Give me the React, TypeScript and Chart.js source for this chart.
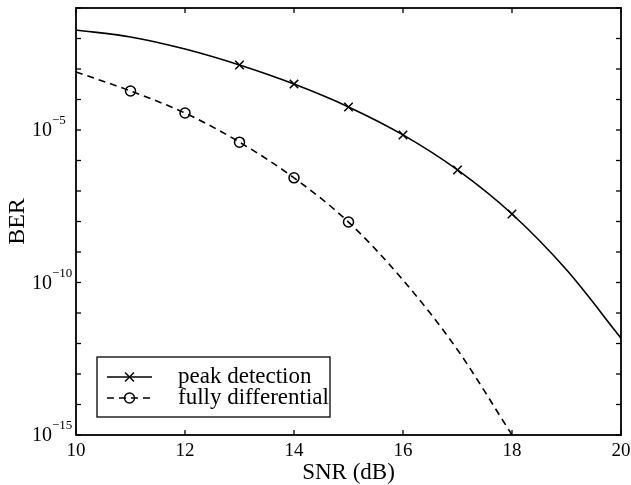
import React, { useEffect, useRef } from "react";
import { Chart, registerables } from "chart.js";

Chart.register(...registerables);

// ---- data ----
const peakSnr = [10, 11, 12, 13, 14, 15, 16, 17, 18, 19, 20];
const peakBer = [1.9e-2, 1.12e-2, 4.5e-3, 1.35e-3, 3.2e-4, 5.7e-5, 6.9e-6, 4.9e-7, 1.76e-8, 2.6e-10, 1.5e-12];
const peakMarkerSnr = [13, 14, 15, 16, 17, 18];

const diffSnr = [10, 11, 12, 13, 14, 15, 16, 17, 18];
const diffBer = [8.0e-4, 1.9e-4, 3.6e-5, 4.0e-6, 2.7e-7, 9.6e-9, 1.2e-10, 6.2e-13, 1e-15];
const diffMarkerSnr = [11, 12, 13, 14, 15];

const xTicks = [10, 12, 14, 16, 18, 20];
const xMin = 10;
const xMax = 20;
const yMinExp = -15;
const yMaxExp = -1;
const yLabelExps = [-5, -10, -15];
const legendLabels = ["peak detection", "fully differential"];
const xTitle = "SNR (dB)";
const yTitle = "BER";

const SERIF = '"Liberation Serif", "Times New Roman", Times, serif';

function drawMarker(ctx: CanvasRenderingContext2D, kind: string, x: number, y: number, r: number) {
  ctx.beginPath();
  if (kind === "cross") {
    ctx.moveTo(x - r, y - r);
    ctx.lineTo(x + r, y + r);
    ctx.moveTo(x - r, y + r);
    ctx.lineTo(x + r, y - r);
  } else {
    ctx.arc(x, y, r, 0, Math.PI * 2);
  }
  ctx.stroke();
}

const framePlugin = {
  id: "matlabFrame",
  afterDatasetsDraw(chart: any) {
    const { ctx, chartArea: a, scales } = chart;
    const xs = scales.x;
    const ys = scales.y;
    const seg = (x1: number, y1: number, x2: number, y2: number) => {
      ctx.beginPath();
      ctx.moveTo(x1, y1);
      ctx.lineTo(x2, y2);
      ctx.stroke();
    };
    ctx.save();
    ctx.strokeStyle = "#000";
    ctx.fillStyle = "#000";
    ctx.setLineDash([]);

    // box
    ctx.lineWidth = 1.8;
    ctx.strokeRect(a.left, a.top, a.right - a.left, a.bottom - a.top);

    // inward ticks
    ctx.lineWidth = 1.3;
    for (const t of xTicks) {
      const px = xs.getPixelForValue(t);
      seg(px, a.bottom, px, a.bottom - 5);
      seg(px, a.top, px, a.top + 5);
    }
    for (let e = yMinExp; e <= yMaxExp; e++) {
      const py = ys.getPixelForValue(Math.pow(10, e));
      seg(a.left, py, a.left + 5, py);
      seg(a.right, py, a.right - 5, py);
    }

    // x tick labels
    ctx.font = `19px ${SERIF}`;
    ctx.textAlign = "center";
    ctx.textBaseline = "middle";
    for (const t of xTicks) {
      ctx.fillText(String(t), xs.getPixelForValue(t), a.bottom + 16);
    }

    // y tick labels 10^e
    for (const e of yLabelExps) {
      const py = ys.getPixelForValue(Math.pow(10, e));
      ctx.font = `20px ${SERIF}`;
      ctx.textAlign = "left";
      ctx.textBaseline = "middle";
      const bx = 32;
      ctx.fillText("10", bx, py + 1);
      const w = ctx.measureText("10").width;
      ctx.font = `13px ${SERIF}`;
      ctx.fillText("\u2212" + String(-e), bx + w, py - 9);
    }

    // axis titles
    ctx.font = `23px ${SERIF}`;
    ctx.textAlign = "center";
    ctx.textBaseline = "middle";
    ctx.fillText(xTitle, (a.left + a.right) / 2, a.bottom + 38);
    ctx.save();
    ctx.translate(18, (a.top + a.bottom) / 2);
    ctx.rotate(-Math.PI / 2);
    ctx.font = `24px ${SERIF}`;
    ctx.fillText(yTitle, 0, 0);
    ctx.restore();

    // legend
    const lx = 97, ly = 357, lw = 233, lh = 60;
    ctx.fillStyle = "#fff";
    ctx.fillRect(lx, ly, lw, lh);
    ctx.lineWidth = 1.3;
    ctx.strokeRect(lx, ly, lw, lh);
    const rows = [
      { y: 377, dash: [] as number[], marker: "cross" },
      { y: 398, dash: [7, 5], marker: "circle" },
    ];
    rows.forEach((r, i) => {
      ctx.lineWidth = 1.4;
      ctx.setLineDash(r.dash);
      seg(107, r.y, 152, r.y);
      ctx.setLineDash([]);
      drawMarker(ctx, r.marker, 129.5, r.y, r.marker === "cross" ? 4.5 : 5);
      ctx.fillStyle = "#000";
      ctx.font = `23px ${SERIF}`;
      ctx.textAlign = "left";
      ctx.textBaseline = "middle";
      ctx.fillText(legendLabels[i], 178, r.y);
    });

    ctx.restore();
  },
};

export default function App() {
  const ref = useRef<HTMLCanvasElement | null>(null);

  useEffect(() => {
    document.body.style.margin = "0";
    const canvas = ref.current;
    if (!canvas) return;
    const peakData = peakSnr.map((x, i) => ({ x, y: peakBer[i] }));
    const diffData = diffSnr.map((x, i) => ({ x, y: diffBer[i] }));
    const chart = new Chart(canvas, {
      type: "line",
      data: {
        datasets: [
          {
            label: legendLabels[0],
            data: peakData,
            borderColor: "#000",
            borderWidth: 1.6,
            cubicInterpolationMode: "monotone",
            pointStyle: "crossRot",
            pointRadius: (c: any) => (peakMarkerSnr.includes(peakSnr[c.dataIndex]) ? 6 : 0),
            pointBorderColor: "#000",
            pointBorderWidth: 1.5,
            pointBackgroundColor: "transparent",
            fill: false,
          },
          {
            label: legendLabels[1],
            data: diffData,
            borderColor: "#000",
            borderWidth: 1.6,
            borderDash: [7, 5],
            cubicInterpolationMode: "monotone",
            pointStyle: "circle",
            pointRadius: (c: any) => (diffMarkerSnr.includes(diffSnr[c.dataIndex]) ? 5 : 0),
            pointBorderColor: "#000",
            pointBorderWidth: 1.5,
            pointBackgroundColor: "transparent",
            fill: false,
          },
        ],
      },
      options: {
        animation: false,
        responsive: false,
        maintainAspectRatio: false,
        devicePixelRatio: 1,
        layout: { padding: { left: 76, right: 10, top: 8, bottom: 50 } },
        plugins: { legend: { display: false }, tooltip: { enabled: false } },
        scales: {
          x: { type: "linear", min: xMin, max: xMax, display: false },
          y: { type: "logarithmic", min: Math.pow(10, yMinExp), max: Math.pow(10, yMaxExp), display: false },
        },
      } as any,
      plugins: [framePlugin],
    });
    return () => chart.destroy();
  }, []);

  return (
    <div style={{ width: 631, height: 485, background: "#fff" }}>
      <canvas ref={ref} width={631} height={485} style={{ display: "block" }} />
    </div>
  );
}
